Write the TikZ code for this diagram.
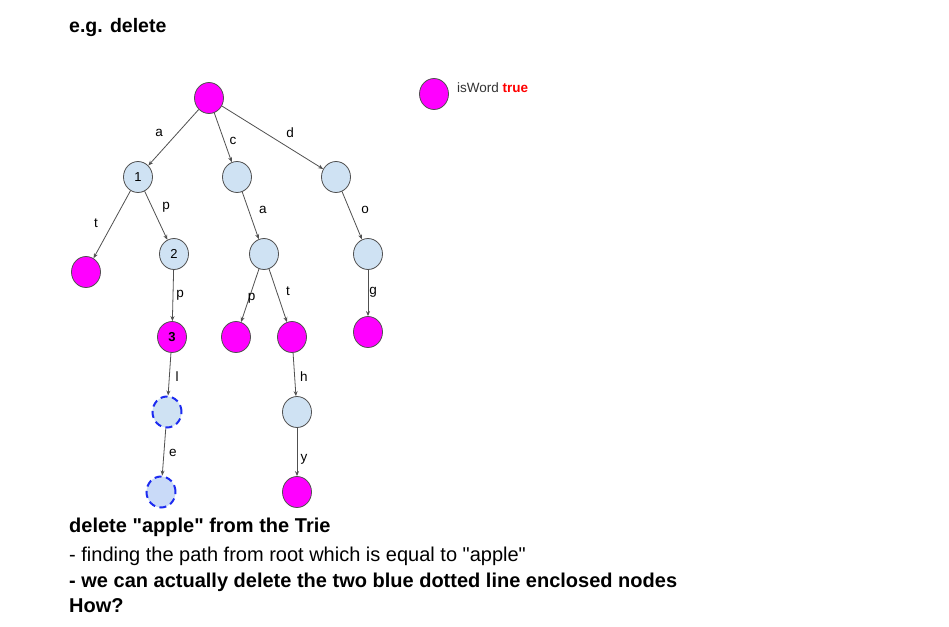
\documentclass[tikz,border=0pt]{standalone}
\usepackage{fontspec}
\setmainfont{Liberation Sans}[Ligatures=TeXOff]
\usetikzlibrary{shapes.geometric,arrows.meta}
\definecolor{nodeblue}{HTML}{CFE2F3}
\definecolor{nodeblue2}{HTML}{C9DAF8}
\definecolor{magentafill}{HTML}{FF00FF}
\definecolor{edgegray}{HTML}{505050}
\definecolor{dashblue}{HTML}{1C2BF0}
\begin{document}
\begin{tikzpicture}[x=1pt,y=-1pt,
  trienode/.style={ellipse,minimum width=29pt,minimum height=31pt,inner sep=0pt,draw=edgegray,line width=0.8pt,font=\fontsize{13}{14}\selectfont},
  plain/.style={trienode,fill=nodeblue},
  word/.style={trienode,fill=magentafill},
  gone/.style={trienode,draw=dashblue,line width=2pt,dash pattern=on 7pt off 4.5pt},
  arr/.style={draw=edgegray,line width=0.8pt,-{Stealth[length=5pt,width=4pt]}},
  lbl/.style={font=\fontsize{13.5}{14}\selectfont,text=black,inner sep=0pt},
  body/.style={anchor=base west,inner sep=0pt,font=\fontsize{20}{22}\selectfont},
  bodyb/.style={body,font=\fontsize{20}{22}\selectfont\bfseries},
]
\useasboundingbox (0,0) rectangle (949,626);
\fill[white] (0,0) rectangle (949,626);

\node[bodyb,font=\fontsize{19.5}{22}\selectfont\bfseries] (title) at (69,33) {e.g. delete};

% tree nodes
\node[word]  (r)   at (209,98)  {};
\node[plain] (n1)  at (138,177) {1};
\node[plain] (c1)  at (237,177) {};
\node[plain] (d1)  at (336,177) {};
\node[word]  (tl)  at (86,272)  {};
\node[plain] (n2)  at (174,254) {2};
\node[plain] (ca)  at (264,254) {};
\node[plain] (do)  at (368,254) {};
\node[word]  (n3)  at (172,337) {\textbf{3}};
\node[word]  (cap) at (236,337) {};
\node[word]  (cat) at (292,337) {};
\node[word]  (dog) at (368,332) {};
\node[gone,fill=nodeblue]  (nl) at (167,412) {};
\node[gone,fill=nodeblue2] (ne) at (161,492) {};
\node[plain] (ch)  at (297,412) {};
\node[word]  (cy)  at (297,492) {};

% edges
\draw[arr] (r) -- (n1);
\draw[arr] (r) -- (c1);
\draw[arr] (r) -- (d1);
\draw[arr] (n1) -- (tl);
\draw[arr] (n1) -- (n2);
\draw[arr] (c1) -- (ca);
\draw[arr] (d1) -- (do);
\draw[arr] (n2) -- (n3);
\draw[arr] (ca) -- (cap);
\draw[arr] (ca) -- (cat);
\draw[arr] (do) -- (dog);
\draw[arr] (n3) -- (nl);
\draw[arr] (nl) -- (ne);
\draw[arr] (cat) -- (ch);
\draw[arr] (ch) -- (cy);

% edge labels
\path (r.center) -- node[lbl,pos=0.443,xshift=-18.5pt] {a} (n1.center);
\path (r.center) -- node[lbl,pos=0.544,xshift=8.8pt] {c} (c1.center);
\path (r.center) -- node[lbl,pos=0.638,yshift=15.4pt] {d} (d1.center);
\path (n1.center) -- node[lbl,pos=0.484,xshift=-16.8pt] {t} (tl.center);
\path (n1.center) -- node[lbl,pos=0.39,xshift=14pt] {p} (n2.center);
\path (c1.center) -- node[lbl,pos=0.429,xshift=14.4pt] {a} (ca.center);
\path (d1.center) -- node[lbl,pos=0.429,xshift=15.3pt] {o} (do.center);
\path (n2.center) -- node[lbl,pos=0.494,xshift=7pt] {p} (n3.center);
\path (ca.center) -- node[lbl,pos=0.53,xshift=2.5pt] {p} (cap.center);
\path (ca.center) -- node[lbl,pos=0.446,xshift=11.5pt] {t} (cat.center);
\path (do.center) -- node[lbl,pos=0.49,xshift=5pt] {g} (dog.center);
\path (n3.center) -- node[lbl,pos=0.533,xshift=7.7pt] {l} (nl.center);
\path (nl.center) -- node[lbl,pos=0.51,xshift=9pt] {e} (ne.center);
\path (cat.center) -- node[lbl,pos=0.533,xshift=9.3pt] {h} (ch.center);
\path (ch.center) -- node[lbl,pos=0.59,xshift=7pt] {y} (cy.center);

% legend
\node[word] (leg) at (434,94) {};
\node[anchor=base west,inner sep=0pt,font=\fontsize{13.5}{14}\selectfont,text=black!80] (legtxt) at (457,92) {isWord \textcolor{red}{\textbf{true}}};

% text
\node[bodyb] (l1) at (69,532) {delete "apple" from the Trie};
\node[body] (l2) at (69,561) {- finding the path from root which is equal to "apple"};
\node[bodyb] (l3) at (69,587) {- we can actually delete the two blue dotted line enclosed nodes};
\node[bodyb] (l4) at (69,612) {How?};
\end{tikzpicture}
\end{document}
